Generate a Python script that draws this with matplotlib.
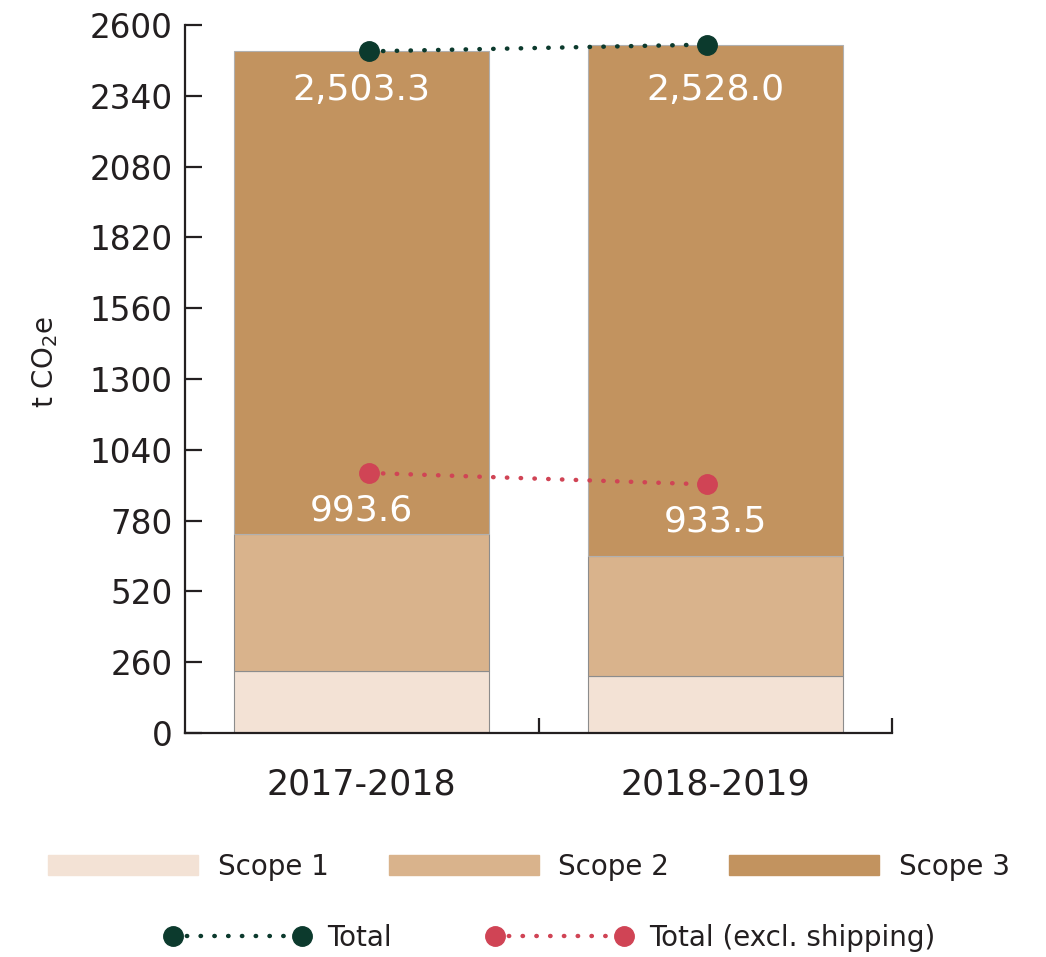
import matplotlib
matplotlib.use("Agg")
import matplotlib.pyplot as plt
from matplotlib.patches import Patch
from matplotlib.lines import Line2D

# data
years = ["2017-2018", "2018-2019"]
scope1 = [228, 210]
scope2 = [503, 440]
scope3 = [1772.3, 1878.0]
total = [2503.3, 2528.0]
total_labels = ["2,503.3", "2,528.0"]
excl_shipping = [955, 913]
excl_labels = ["993.6", "933.5"]
yticks = [0, 260, 520, 780, 1040, 1300, 1560, 1820, 2080, 2340, 2600]

c_s1 = "#F3E2D5"
c_s2 = "#D9B38C"
c_s3 = "#C2935F"
c_total = "#0C3A2D"
c_excl = "#D04455"
c_axis = "#231F20"

plt.rcParams['font.family'] = ['DejaVu Sans']

fig = plt.figure(figsize=(10.46, 9.57), dpi=100)
ax = fig.add_axes([185 / 1046, 1 - 733 / 957, 707 / 1046, 708 / 957])

x = [0.5, 1.5]
w = 0.72
bottom2 = [a for a in scope1]
bottom3 = [a + b for a, b in zip(scope1, scope2)]
ax.bar(x, scope1, w, color=c_s1, edgecolor="#8c8c8c", linewidth=0.8)
ax.bar(x, scope2, w, bottom=bottom2, color=c_s2, edgecolor="#8c8c8c", linewidth=0.8)
ax.bar(x, scope3, w, bottom=bottom3, color=c_s3, edgecolor="#b0b0b0", linewidth=0.8)

# the line markers sit slightly inward of the bar centres
inset = 0.021
xl = [x[0] + inset, x[1] - inset * 1.1]
dot_style = dict(linestyle=(0, (0.1, 3.0)), linewidth=3.2, dash_capstyle="round",
                 marker="o", markersize=14)
ax.plot(xl, total, color=c_total, **dot_style, zorder=5)
ax.plot(xl, excl_shipping, color=c_excl, **dot_style, zorder=5)

for xi, lab in zip(x, total_labels):
    ax.annotate(lab, (xi, min(total)), xytext=(0, -28), textcoords="offset points",
                ha="center", va="center", color="white", fontsize=26)
for xi, v, lab in zip(x, excl_shipping, excl_labels):
    ax.annotate(lab, (xi, v), xytext=(0, -27), textcoords="offset points",
                ha="center", va="center", color="white", fontsize=26)

ax.set_xlim(0, 2)
ax.set_ylim(0, 2600)
ax.set_yticks(yticks)
ax.set_yticklabels([str(t) for t in yticks], fontsize=23.5, color=c_axis)
ax.tick_params(axis="y", direction="in", length=12, width=1.6, color=c_axis, pad=9)
ax.set_xticks(x)
ax.set_xticklabels(years, fontsize=25, color=c_axis)
ax.tick_params(axis="x", which="major", length=0, pad=25)
ax.set_xticks([1, 2], minor=True)
ax.tick_params(axis="x", which="minor", direction="in", length=11, width=1.6, color=c_axis)

for s in ["top", "right"]:
    ax.spines[s].set_visible(False)
for s in ["left", "bottom"]:
    ax.spines[s].set_linewidth(1.6)
    ax.spines[s].set_color(c_axis)

fig.text(45 / 1046, 1 - 362 / 957, "t CO$_2$e", rotation=90, ha="center", va="center",
         fontsize=20, color=c_axis)

# legend row 1
h1 = [Patch(color=c_s1), Patch(color=c_s2), Patch(color=c_s3)]
leg1 = fig.legend(h1, ["Scope 1", "Scope 2", "Scope 3"], loc="center",
                  bbox_to_anchor=(529 / 1046, 1 - 867 / 957), ncol=3, frameon=False,
                  fontsize=20, handlelength=5.4, handleheight=0.72, handletextpad=0.72,
                  columnspacing=2.15, labelcolor=c_axis)

# legend row 2
h2 = [Line2D([0], [0], color=c_total, **dot_style),
      Line2D([0], [0], color=c_excl, **dot_style)]
leg2 = fig.legend(h2, ["Total", "Total (excl. shipping)"], loc="center",
                  bbox_to_anchor=(550 / 1046, 1 - 938 / 957), ncol=2, frameon=False,
                  fontsize=20, handlelength=5.22, handletextpad=0.6, numpoints=2,
                  columnspacing=3.45, labelcolor=c_axis)

fig.savefig("out.png", dpi=100)
